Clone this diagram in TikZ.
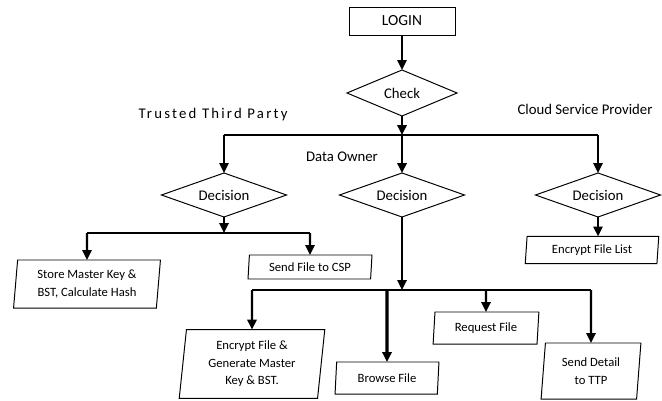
\documentclass[tikz,border=0pt]{standalone}
\usepackage{fontspec}
\setmainfont{Carlito}
\usetikzlibrary{shapes.geometric, arrows.meta}

\begin{document}
\begin{tikzpicture}[x=0.025cm, y=-0.025cm, font=\fontsize{10.5}{12}\selectfont, line join=miter,
	every node/.style={align=center, inner sep=0pt, outer sep=0pt},
	decision/.style={draw, diamond, aspect=2.7, minimum width=3.125cm, minimum height=1.1cm, line width=0.7pt},
	iobox/.style={draw, trapezium, trapezium left angle=84, trapezium right angle=96, trapezium stretches=true, line width=0.7pt, font=\fontsize{9}{12.4}\selectfont},
	flow/.style={-{Triangle[width=6.5pt, length=7pt]}, line width=1.6pt},
	link/.style={line width=1.2pt}]
	\useasboundingbox (0, 0) rectangle (662, 400);
	
	% Login und Check
	\node[draw, minimum width=2.65cm, minimum height=0.7cm, line width=0.7pt, font=\fontsize{11}{13}\selectfont] (login) at (402, 21) {LOGIN};
	\node[decision, minimum width=2.75cm, minimum height=1.15cm] (check) at (402, 93) {Check};
	\draw[flow] (login) -- (check);
	
	% Verzweigung in drei Rollen
	\coordinate (split) at (402, 135);
	\coordinate (split-ttp) at (224, 135);
	\coordinate (split-csp) at (598, 135);
	\draw[flow, line width=2pt] (check) -- (split);
	\draw[link] (split-ttp) -- (split-csp);
	\node[font=\fontsize{10.5}{12}\selectfont\addfontfeatures{LetterSpace=15}] (lbl-ttp) at (213, 115) {Trusted Third Party};
	\node (lbl-do) at (342, 157) {Data Owner};
	\node (lbl-csp) at (585, 109) {Cloud Service Provider};
	\node[decision] (dec-ttp) at (224, 195) {Decision};
	\node[decision] (dec-do) at (402, 195) {Decision};
	\node[decision] (dec-csp) at (598, 195) {Decision};
	\draw[flow] (split-ttp) -- (dec-ttp);
	\draw[flow, line width=2pt] (split) -- (dec-do);
	\draw[flow] (split-csp) -- (dec-csp);
	
	% Trusted Third Party
	\coordinate (ttp-mid) at (224, 233);
	\coordinate (ttp-left) at (87, 233);
	\coordinate (ttp-right) at (310, 233);
	\draw[flow] (dec-ttp) -- (ttp-mid);
	\draw[link] (ttp-left) -- (ttp-right);
	\node[iobox, minimum width=3.7cm, minimum height=1.2cm] (store) at (87, 284) {Store Master Key \&\\BST, Calculate Hash};
	\node[iobox, minimum width=3.1cm, minimum height=0.6cm] (sendcsp) at (310, 267) {Send File to CSP};
	\draw[flow] (ttp-left) -- (store);
	\draw[flow] (ttp-right) -- (sendcsp);
	
	% Cloud Service Provider
	\node[iobox, minimum width=3.35cm, minimum height=0.68cm] (enclist) at (592, 250) {Encrypt File List};
	\draw[flow] (dec-csp.south) -- (dec-csp.south |- enclist.north);
	
	% Data Owner
	\coordinate (do-mid) at (402, 290);
	\coordinate (do-left) at (252, 290);
	\coordinate (do-browse) at (387, 290);
	\coordinate (do-request) at (486, 290);
	\coordinate (do-right) at (591, 290);
	\draw[flow] (dec-do) -- (do-mid);
	\draw[link] (do-left) -- (do-right);
	\node[iobox, minimum width=3.65cm, minimum height=1.72cm] (encgen) at (252, 364) {Encrypt File \&\\Generate Master\\Key \& BST.};
	\node[iobox, minimum width=2.6cm, minimum height=0.8cm] (browse) at (387, 378) {Browse File};
	\node[iobox, minimum width=2.65cm, minimum height=0.8cm] (request) at (486, 328) {Request File};
	\node[iobox, minimum width=2.5cm, minimum height=1.4cm] (detail) at (591, 371) {Send Detail\\to TTP};
	\draw[flow] (do-left) -- (encgen);
	\draw[flow, line width=2.2pt] (do-browse) -- (browse);
	\draw[flow] (do-request) -- (request);
	\draw[flow] (do-right) -- (detail);
	
\end{tikzpicture}
\end{document}
